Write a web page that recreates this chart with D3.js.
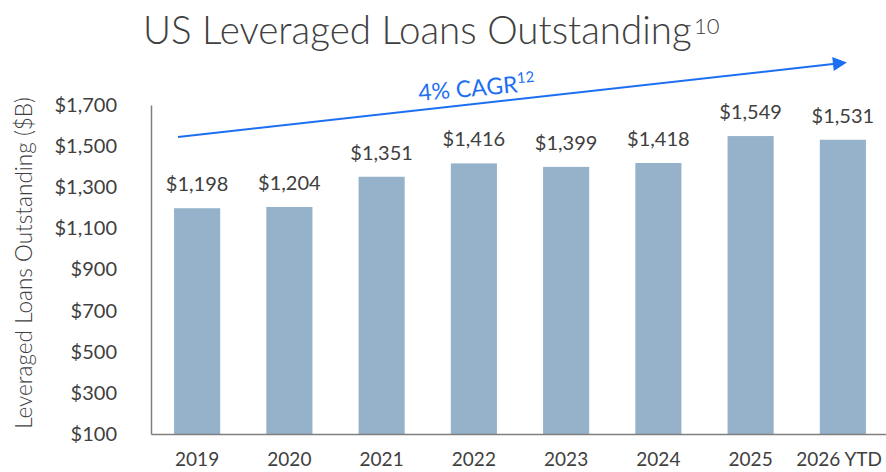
<!DOCTYPE html>
<html>
<head>
<meta charset="utf-8">
<script src="https://cdn.jsdelivr.net/npm/d3@7"></script>
<style>
  body { margin: 0; background: #fff; }
  svg { display: block; }
  text { font-family: Lato, "Noto Sans", sans-serif; fill: #404040; }
</style>
</head>
<body>
<svg id="root" width="886" height="472"></svg>
<script>
// data
let years = ['2019', '2020', '2021', '2022', '2023', '2024', '2025', '2026 YTD']
let loans = [1198, 1204, 1351, 1416, 1399, 1418, 1549, 1531]
let yTicks = [100, 300, 500, 700, 900, 1100, 1300, 1500, 1700]

let root = d3.select('#root')
let fmt = d3.format(',')

let x = d3.scaleBand().domain(years).range([151, 889]).paddingInner(0.5).paddingOuter(0.25)
let y = d3.scaleLinear().domain([100, 1700]).range([434, 105])

// fit a text node to a width in pixels
function fit (sel, w) {
  let len = sel.node().getComputedTextLength()
  let fs = parseFloat(sel.attr('font-size'))
  sel.attr('font-size', fs * w / len)
}

// title
let title = root.append('text')
  .attr('x', 143).attr('y', 44)
  .attr('font-size', 36).attr('font-weight', 300)
  .text('US Leveraged Loans Outstanding')
fit(title, 549)
root.append('text')
  .attr('x', 694).attr('y', 34)
  .attr('font-size', 22).attr('font-weight', 300)
  .text('10')

// bars
root.selectAll('rect.bar').data(loans).enter().append('rect')
  .attr('class', 'bar')
  .attr('x', (d, i) => x(years[i]))
  .attr('y', (d) => y(d))
  .attr('width', x.bandwidth())
  .attr('height', (d) => y(100) - y(d))
  .attr('fill', '#95b2ca')

// value labels
root.selectAll('text.val').data(loans).enter().append('text')
  .attr('class', 'val')
  .attr('x', (d, i) => x(years[i]) + x.bandwidth() / 2)
  .attr('y', (d) => y(d) - 17)
  .attr('text-anchor', 'middle')
  .attr('font-size', 20)
  .text((d) => '$' + fmt(d))

// y axis
let yAxis = root.append('g')
  .attr('transform', 'translate(151,0)')
  .call(d3.axisLeft(y).tickValues(yTicks).tickSize(0).tickPadding(34).tickFormat((d) => '$' + fmt(d)))
yAxis.select('.domain').attr('stroke', '#7f7f7f').attr('stroke-width', 1.5)
yAxis.selectAll('text')
  .attr('font-size', 20)
  .attr('font-family', 'Lato, "Noto Sans", sans-serif')
  .attr('fill', '#404040')

// x axis
let xAxis = root.append('g')
  .attr('transform', 'translate(0,434)')
  .call(d3.axisBottom(x).tickSize(0).tickPadding(19))
xAxis.select('.domain').attr('stroke', '#7f7f7f').attr('stroke-width', 1.5)
xAxis.selectAll('text')
  .attr('font-size', 19)
  .attr('font-family', 'Lato, "Noto Sans", sans-serif')
  .attr('fill', '#404040')
// keep the last label inside the picture
xAxis.selectAll('.tick text').each(function () {
  let t = d3.select(this)
  let b = this.getBoundingClientRect()
  if (b.right > 882) t.attr('dx', 882 - b.right)
})

// y axis title
let yTitle = root.append('text')
  .attr('transform', 'translate(32,263) rotate(-90)')
  .attr('text-anchor', 'middle')
  .attr('font-size', 18).attr('font-weight', 300)
  .text('Leveraged Loans Outstanding ($B)')
fit(yTitle, 332)

// CAGR arrow
let blue = '#1d6ff2'
let defs = root.append('defs')
defs.append('marker')
  .attr('id', 'head')
  .attr('viewBox', '0 0 10 10')
  .attr('refX', 0).attr('refY', 5)
  .attr('markerWidth', 15).attr('markerHeight', 14)
  .attr('markerUnits', 'userSpaceOnUse')
  .attr('orient', 'auto')
  .append('path').attr('d', 'M0,0L10,5L0,10Z').attr('fill', blue)

root.append('line')
  .attr('x1', 178).attr('y1', 137)
  .attr('x2', 833).attr('y2', 64)
  .attr('stroke', blue).attr('stroke-width', 2)
  .attr('marker-end', 'url(#head)')

let cagr = root.append('text')
  .attr('transform', 'translate(419,101) rotate(-5)')
  .attr('font-size', 23)
  .style('fill', blue)
cagr.append('tspan').text('4% CAGR')
cagr.append('tspan').attr('font-size', 15).attr('dy', -9).text('12')
</script>
</body>
</html>
